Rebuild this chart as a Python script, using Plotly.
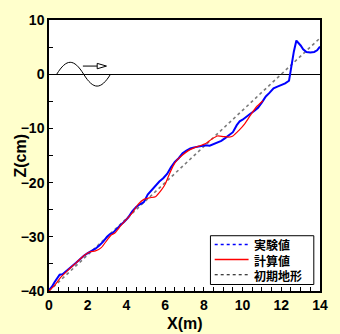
import plotly.graph_objects as go

# ---- data ----
exp_x = [0.00, 0.15, 0.30, 0.45, 0.55, 0.70, 0.85, 1.00, 1.20, 1.40, 1.60, 1.80, 2.00, 2.20, 2.40,
         2.60, 2.80, 3.00, 3.15, 3.30, 3.50, 3.70, 3.90, 4.10, 4.30, 4.50, 4.70, 4.90, 5.10, 5.30,
         5.50, 5.70, 5.90, 6.10, 6.30, 6.50, 6.70, 6.90, 7.10, 7.30, 7.50, 7.70, 7.90, 8.10, 8.30,
         8.50, 8.70, 8.90, 9.10, 9.30, 9.50, 9.70, 9.85, 10.00, 10.20, 10.40, 10.60, 10.80, 11.00,
         11.20, 11.40, 11.60, 11.80, 12.00, 12.20, 12.40, 12.48, 12.55, 12.65, 12.78, 12.90, 13.00,
         13.13, 13.30, 13.50, 13.70, 13.85, 14.00]
exp_z = [-39.8, -39.2, -38.3, -37.5, -37.0, -36.9, -36.5, -36.0, -35.4, -34.8, -34.1, -33.5, -33.0,
         -32.6, -32.2, -31.6, -30.9, -30.0, -29.5, -29.3, -28.5, -27.8, -27.2, -26.4, -25.3, -24.5,
         -24.0, -23.6, -22.2, -21.4, -20.5, -19.8, -19.2, -18.4, -17.2, -16.2, -15.5, -14.6, -14.1,
         -13.7, -13.5, -13.4, -13.3, -13.1, -13.2, -12.9, -12.7, -12.3, -11.8, -11.3, -10.7, -9.4,
         -8.7, -8.4, -7.8, -7.3, -6.8, -6.2, -5.2, -4.1, -3.4, -2.6, -2.3, -2.0, -1.7, -1.2, 0.5,
         2.8, 4.2, 6.2, 5.8, 5.3, 4.6, 4.1, 4.0, 4.1, 4.4, 5.1]

calc_x = [0.00, 0.30, 0.60, 1.00, 1.40, 1.80, 2.10, 2.40, 2.70, 3.00, 3.20, 3.40, 3.70, 4.00, 4.30,
          4.60, 4.90, 5.20, 5.50, 5.80, 6.00, 6.20, 6.40, 6.60, 6.90, 7.20, 7.50, 7.80, 8.10, 8.40,
          8.70, 9.00, 9.30, 9.50, 9.80, 10.10, 10.40, 10.70, 11.05]
calc_z = [-40.0, -38.9, -37.5, -36.1, -34.8, -33.5, -32.8, -32.6, -32.0, -30.6, -29.7, -29.3, -28.0,
          -26.8, -25.6, -24.0, -23.1, -22.8, -22.6, -21.4, -20.3, -18.6, -17.0, -15.9, -14.9, -14.1,
          -13.6, -13.2, -12.8, -12.0, -11.4, -11.5, -11.6, -11.4, -10.4, -9.2, -7.6, -6.1, -4.9]

init_x = [0.0, 14.0]
init_z = [-40.0, 6.67]

legend_names = ["実験値", "計算値", "初期地形"]

x_ticks = [0, 2, 4, 6, 8, 10, 12, 14]
y_ticks = [-40, -30, -20, -10, 0, 10]

BG = "#FFFFCC"
FONT = "Liberation Sans, Arial, sans-serif"
CJK = "Noto Sans CJK JP"

fig = go.Figure()
fig.add_trace(go.Scatter(x=init_x, y=init_z, mode="lines",
                         line=dict(color="#7a7a7a", width=1.6, dash="dot"),
                         showlegend=False, hoverinfo="skip"))
fig.add_trace(go.Scatter(x=exp_x, y=exp_z, mode="lines",
                         line=dict(color="#0000FF", width=2),
                         showlegend=False))
fig.add_trace(go.Scatter(x=calc_x, y=calc_z, mode="lines",
                         line=dict(color="#FF0000", width=1.2, shape="spline", smoothing=0.6),
                         showlegend=False))

shapes = []
# wave icon (one sine period drawn as bezier path)
x0w, x1w, amp = 0.40, 3.18, 2.2
w = (x1w - x0w) / 2
k = 0.3642
path = (f"M {x0w},0 C {x0w + w*k},{amp*1.33} {x0w + w*(1-k)},{amp*1.33} {x0w + w},0 "
        f"C {x0w + w + w*k},{-amp*1.33} {x0w + w + w*(1-k)},{-amp*1.33} {x1w},0")
shapes.append(dict(type="path", xref="x", yref="y", path=path,
                   line=dict(color="black", width=1)))
# arrow
shapes.append(dict(type="line", xref="x", yref="y", x0=1.75, x1=2.49, y0=1.5, y1=1.5,
                   line=dict(color="black", width=1)))
shapes.append(dict(type="path", xref="x", yref="y",
                   path="M 2.49,2.0 L 2.97,1.5 L 2.49,1.0 Z",
                   fillcolor="white", line=dict(color="black", width=1)))

# manual legend
shapes.append(dict(type="rect", xref="x", yref="y", x0=8.34, x1=13.68, y0=-38.8, y1=-29.8,
                   fillcolor="white", line=dict(color="black", width=1), layer="above"))
rows = [-31.4, -34.2, -37.0]
styles = [dict(color="#0000FF", width=1.5, dash="dot"),
          dict(color="#FF0000", width=1.5),
          dict(color="black", width=1.2, dash="dot")]
annotations = []
for yy, st in zip(rows, styles):
    shapes.append(dict(type="line", xref="x", yref="y", x0=8.56, x1=10.31, y0=yy, y1=yy,
                       line=st, layer="above"))
annotations.append(dict(x=10.5, y=rows[1], xref="x", yref="y",
                        text="<br>".join(f"<b>{nm}</b>" for nm in legend_names),
                        showarrow=False, xanchor="left", yanchor="middle", align="left",
                        font=dict(family=CJK, size=12, color="black")))

annotations.append(dict(xref="paper", yref="paper", x=0, y=0.5, xshift=-29, textangle=-90,
                        text="<b>Z(cm)</b>", showarrow=False, xanchor="center", yanchor="middle",
                        font=dict(family=FONT, size=16, color="black")))
annotations.append(dict(xref="paper", yref="paper", x=0.5, y=0, yshift=-32,
                        text="<b>X(m)</b>", showarrow=False, xanchor="center", yanchor="middle",
                        font=dict(family=FONT, size=16, color="black")))

fig.update_layout(
    width=340, height=334,
    margin=dict(l=49, r=18, t=13, b=43),
    paper_bgcolor=BG, plot_bgcolor="white",
    showlegend=False,
    shapes=shapes, annotations=annotations,
    xaxis=dict(range=[0, 14], tickvals=x_ticks, ticks="inside", ticklen=4, tickwidth=1,
               tickcolor="black", showgrid=False, zeroline=False,
               showline=True, linecolor="black", linewidth=1.5, mirror=True,
               minor=dict(dtick=0.5, ticks="inside", ticklen=4, tickcolor="black", showgrid=False),
               tickfont=dict(family=FONT, size=14, color="black", weight="bold")),
    yaxis=dict(range=[-40, 10], tickvals=y_ticks, ticks="inside", ticklen=4, tickwidth=1,
               tickcolor="black", showgrid=False, zeroline=True, zerolinecolor="black",
               zerolinewidth=1, showline=True, linecolor="black", linewidth=1.5, mirror=True,
               minor=dict(dtick=5, ticks="inside", ticklen=4, tickcolor="black", showgrid=False),
               tickfont=dict(family=FONT, size=14, color="black", weight="bold")),
)

fig.write_html("out.html", config={"displayModeBar": False},
               post_script="document.body.style.margin='0';document.body.style.overflow='hidden';")
